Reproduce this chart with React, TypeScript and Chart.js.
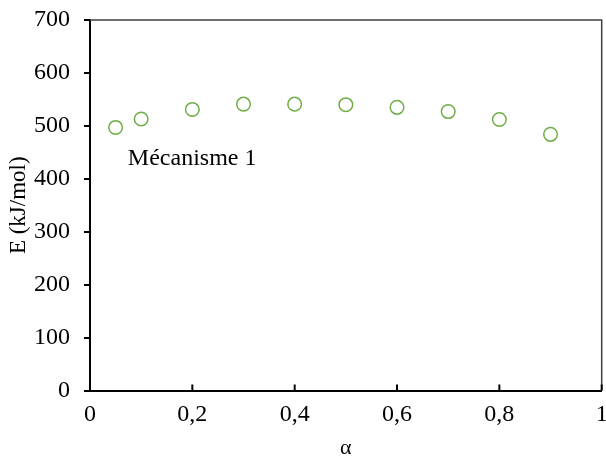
import React, { useEffect, useRef } from 'react';
import { Chart, registerables } from 'chart.js';

Chart.register(...registerables);

const alphaValues = [0.05, 0.1, 0.2, 0.3, 0.4, 0.5, 0.6, 0.7, 0.8, 0.9];
const energyValues = [497, 513, 531, 541, 541, 540, 535, 527, 512, 484];
const xTickValues = [0, 0.2, 0.4, 0.6, 0.8, 1];
const yTickValues = [0, 100, 200, 300, 400, 500, 600, 700];
const annotationText = 'Mécanisme 1';
const annotationX = 0.074;
const annotationY = 426;
const xTitle = 'α';
const yTitle = 'E (kJ/mol)';

const FONT = "'Liberation Serif', 'Times New Roman', serif";

const fmt = (v: number) => String(Number(v.toFixed(2))).replace('.', ',');

const framePlugin = {
  id: 'frame',
  beforeDatasetsDraw(chart: any) {
    const { ctx, chartArea } = chart;
    ctx.save();
    ctx.strokeStyle = '#404040';
    ctx.lineWidth = 1.5;
    ctx.beginPath();
    ctx.moveTo(chartArea.left, chartArea.top);
    ctx.lineTo(chartArea.right, chartArea.top);
    ctx.lineTo(chartArea.right, chartArea.bottom);
    ctx.stroke();
    const xs = chart.scales.x;
    ctx.strokeStyle = '#000';
    ctx.lineWidth = 2;
    xs.ticks.forEach((t: any) => {
      if (t.value === 0) return;
      const px = xs.getPixelForValue(t.value);
      ctx.beginPath();
      ctx.moveTo(px, chartArea.bottom);
      ctx.lineTo(px, chartArea.bottom - 6);
      ctx.stroke();
    });
    ctx.restore();
  },
  afterDatasetsDraw(chart: any) {
    const { ctx } = chart;
    const px = chart.scales.x.getPixelForValue(annotationX);
    const py = chart.scales.y.getPixelForValue(annotationY);
    ctx.save();
    ctx.font = `24px ${FONT}`;
    ctx.fillStyle = '#000';
    ctx.textBaseline = 'alphabetic';
    ctx.textAlign = 'left';
    ctx.fillText(annotationText, px, py);
    ctx.restore();
  },
};

export default function App() {
  const ref = useRef<HTMLCanvasElement | null>(null);
  useEffect(() => {
    if (!ref.current) return;
    const chart = new Chart(ref.current, {
      type: 'scatter',
      data: {
        datasets: [
          {
            label: 'E',
            data: alphaValues.map((a, i) => ({ x: a, y: energyValues[i] })),
            pointStyle: 'circle',
            pointRadius: 6.8,
            pointBorderWidth: 1.5,
            borderColor: '#70AD47',
            pointBorderColor: '#70AD47',
            backgroundColor: 'rgba(0,0,0,0)',
            pointBackgroundColor: 'rgba(0,0,0,0)',
            showLine: false,
          },
        ],
      },
      options: {
        responsive: false,
        animation: false,
        layout: { padding: { top: 20, right: 1.5, left: 0, bottom: 0 } },
        plugins: {
          legend: { display: false },
          tooltip: { enabled: false },
        },
        scales: {
          x: {
            type: 'linear',
            min: 0,
            max: 1,
            afterBuildTicks: (s: any) => {
              s.ticks = xTickValues.map((v) => ({ value: v }));
            },
            afterFit: (s: any) => {
              s.height = 75.5;
              s.paddingRight = 0;
              s.paddingLeft = 0;
            },
            grid: { display: false, drawTicks: false },
            border: { display: true, color: '#000', width: 2 },
            ticks: {
              color: '#000',
              font: { family: FONT, size: 24 },
              padding: 10,
              maxRotation: 0,
              callback: (v: any) => fmt(Number(v)),
            },
            title: {
              display: true,
              text: xTitle,
              color: '#000',
              font: { family: FONT, size: 22 },
              padding: { top: 2, bottom: 5 },
            },
          },
          y: {
            type: 'linear',
            min: 0,
            max: 700,
            afterBuildTicks: (s: any) => {
              s.ticks = yTickValues.map((v) => ({ value: v }));
            },
            afterFit: (s: any) => {
              s.width = 90;
              s.paddingTop = 0;
              s.paddingBottom = 0;
            },
            grid: {
              display: true,
              drawOnChartArea: false,
              drawTicks: true,
              tickLength: 6,
              color: '#000',
              lineWidth: 2,
            },
            border: { display: true, color: '#000', width: 2 },
            ticks: {
              color: '#000',
              font: { family: FONT, size: 24 },
              padding: 14,
              callback: (v: any) => String(v),
            },
            title: {
              display: true,
              text: yTitle,
              color: '#000',
              font: { family: FONT, size: 23 },
              padding: { top: 5, bottom: 0 },
            },
          },
        },
      },
      plugins: [framePlugin],
    });
    return () => chart.destroy();
  }, []);
  return (
    <div style={{ position: 'fixed', left: 0, top: 0, width: 606, height: 466, background: '#fff', overflow: 'hidden' }}>
      <canvas ref={ref} width={610} height={466} style={{ display: 'block' }} />
    </div>
  );
}
